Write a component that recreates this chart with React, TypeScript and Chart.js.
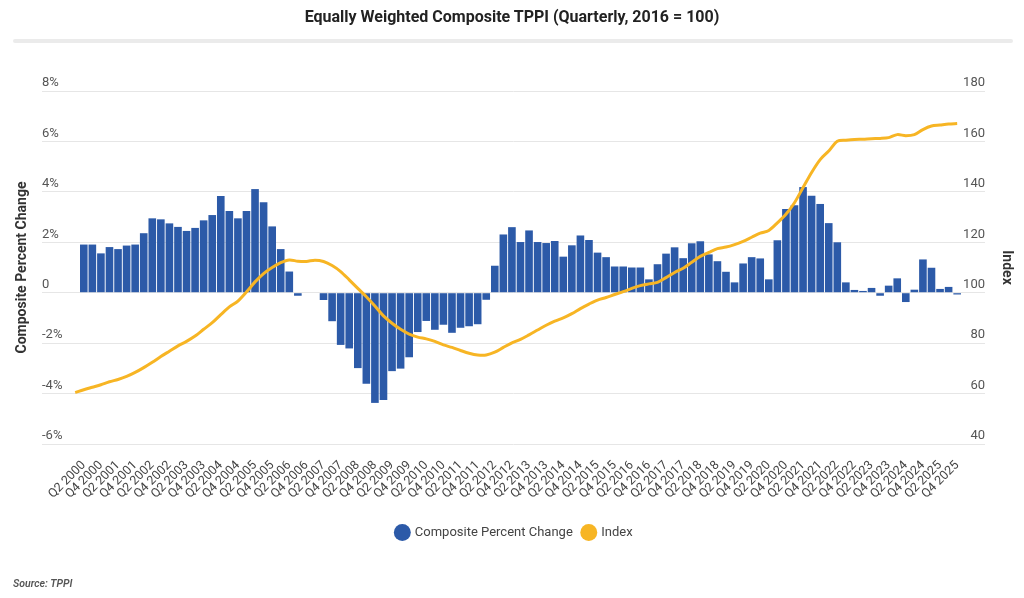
import React, { useEffect, useRef } from 'react';
import { Chart, registerables } from 'chart.js';

Chart.register(...registerables);

// Q1 2000 ~ Q4 2025
const quarters: string[] = [];
for (let y = 2000; y <= 2025; y++) {
  for (let q = 1; q <= 4; q++) quarters.push(`Q${q} ${y}`);
}

// quarter-over-quarter % change (no value for Q1 2000)
const pctChange: (number | null)[] = [
  null,
  1.91, 1.91, 1.56, 1.81, 1.73, 1.87, 1.91, 2.36, 2.95, 2.91,
  2.75, 2.61, 2.45, 2.57, 2.87, 3.08, 3.84, 3.24, 2.95, 3.24,
  4.11, 3.59, 2.63, 1.73, 0.84, -0.12, 0.0, 0.0, -0.29, -1.13,
  -2.07, -2.21, -2.99, -3.61, -4.37, -4.25, -3.11, -3.01, -2.56, -1.56,
  -1.12, -1.47, -1.27, -1.59, -1.39, -1.33, -1.25, -0.28, 1.07, 2.31,
  2.6, 2.01, 2.47, 2.01, 1.97, 2.05, 1.43, 1.88, 2.27, 2.09,
  1.59, 1.41, 1.04, 1.04, 1.0, 1.0, 0.53, 1.13, 1.55, 1.8,
  1.37, 1.96, 2.04, 1.52, 1.25, 0.83, 0.41, 1.16, 1.41, 1.36,
  0.53, 2.08, 3.32, 3.47, 4.19, 3.85, 3.52, 2.76, 2.0, 0.41,
  0.11, 0.07, 0.19, -0.12, 0.28, 0.57, -0.37, 0.12, 1.32, 0.99,
  0.15, 0.23, -0.07,
];

// index, 2016 = 100
const indexValues: number[] = [
  60.4, 61.5, 62.5, 63.5, 64.7, 65.6, 66.8, 68.4, 70.3, 72.4,
  74.7, 76.8, 78.9, 80.7, 82.8, 85.5, 88.1, 91.3, 94.4, 96.7,
  100.3, 104.3, 107.6, 110.0, 111.9, 113.0, 112.5, 112.4, 112.9, 112.4,
  110.8, 108.4, 105.1, 101.7, 98.4, 94.7, 90.8, 87.9, 85.5, 83.6,
  82.4, 81.7, 80.7, 79.3, 78.3, 77.1, 76.0, 75.3, 75.3, 76.4,
  78.3, 80.1, 81.5, 83.3, 85.2, 87.1, 88.7, 90.0, 91.7, 93.7,
  95.5, 97.1, 98.1, 99.3, 100.4, 101.7, 102.8, 103.5, 104.1, 106.0,
  108.0, 109.7, 112.1, 114.4, 116.0, 117.5, 118.1, 119.1, 120.4, 122.0,
  123.6, 124.7, 127.7, 131.1, 135.7, 141.7, 147.7, 152.8, 156.2, 160.1,
  160.5, 160.8, 160.9, 161.1, 161.2, 161.5, 162.7, 162.3, 162.7, 164.7,
  166.1, 166.5, 166.9, 167.1,
];

const leftTicks = { min: -6, max: 8, step: 2 };
const rightTicks = { min: 40, max: 180, step: 20 };

const BLUE = '#2c5aa8';
const GOLD = '#f7b524';

const App: React.FC = () => {
  const canvasRef = useRef<HTMLCanvasElement>(null);
  const chartRef = useRef<Chart | null>(null);

  useEffect(() => {
    if (!canvasRef.current) return;
    if (chartRef.current) chartRef.current.destroy();

    const ctx = canvasRef.current.getContext('2d');
    if (!ctx) return;

    Chart.defaults.font.family = 'Roboto';

    chartRef.current = new Chart(ctx, {
      type: 'bar',
      data: {
        datasets: [
          {
            type: 'bar',
            label: 'Composite Percent Change',
            data: pctChange.map((v, i) => ({ x: i, y: v })) as any,
            backgroundColor: BLUE,
            borderWidth: 0,
            barPercentage: 0.89,
            categoryPercentage: 1,
            yAxisID: 'y',
            order: 1,
          },
          {
            type: 'line',
            label: 'Index',
            data: indexValues.map((v, i) => ({ x: i, y: v })) as any,
            borderColor: GOLD,
            backgroundColor: GOLD,
            borderWidth: 3,
            pointRadius: 0,
            tension: 0.3,
            yAxisID: 'y1',
            order: 0,
          },
        ],
      },
      options: {
        responsive: true,
        maintainAspectRatio: false,
        animation: false,
        layout: { padding: { top: 91, left: 10, right: 5, bottom: 49 } },
        plugins: {
          legend: {
            position: 'bottom',
            labels: {
              usePointStyle: true,
              pointStyle: 'circle',
              boxWidth: 12,
              boxHeight: 12,
              padding: 10,
              color: '#444',
              font: { size: 13 },
              sort: (a: any, b: any) => a.datasetIndex - b.datasetIndex,
              generateLabels: (chart: any) =>
                Chart.defaults.plugins.legend.labels
                  .generateLabels(chart)
                  .map((l: any) => ({ ...l, lineWidth: 0 })),
            },
          },
          tooltip: { enabled: false },
        },
        scales: {
          x: {
            type: 'linear',
            offset: false,
            min: -3.88,
            max: 106.25,
            grid: { display: false },
            border: { display: false },
            afterBuildTicks: (s: any) => {
              s.ticks = quarters
                .map((_, i) => i)
                .filter((i) => i % 2 === 1)
                .map((v) => ({ value: v }));
            },
            afterFit: (s: any) => {
              s.height = 72;
            },
            ticks: {
              autoSkip: false,
              minRotation: 45,
              maxRotation: 45,
              padding: 6,
              color: '#444',
              font: { size: 12.5 },
              callback: (value: any) => quarters[value] ?? '',
            },
          },
          y: {
            type: 'linear',
            position: 'left',
            min: leftTicks.min,
            max: leftTicks.max,
            grid: { color: '#e6e6e6', drawTicks: false },
            border: { display: false },
            afterFit: (s: any) => {
              s.width = 32;
            },
            ticks: {
              stepSize: leftTicks.step,
              mirror: true,
              padding: 0,
              labelOffset: -8,
              color: '#555',
              font: { size: 13 },
              callback: (v: any) => (v === 0 ? '0' : `${v}%`),
            },
            title: {
              display: true,
              text: 'Composite Percent Change',
              color: '#333',
              font: { size: 14, weight: 'bold' },
            },
          },
          y1: {
            type: 'linear',
            position: 'right',
            min: rightTicks.min,
            max: rightTicks.max,
            grid: { display: false, drawTicks: false },
            border: { display: false },
            afterFit: (s: any) => {
              s.width = 34;
            },
            ticks: {
              stepSize: rightTicks.step,
              mirror: true,
              padding: 0,
              labelOffset: -8,
              color: '#555',
              font: { size: 13 },
            },
            title: {
              display: true,
              text: 'Index',
              color: '#333',
              font: { size: 14, weight: 'bold' },
            },
          },
        },
      },
    });

    return () => {
      if (chartRef.current) {
        chartRef.current.destroy();
        chartRef.current = null;
      }
    };
  }, []);

  return (
    <div style={{ position: 'relative', width: 1024, height: 598, background: '#fff', fontFamily: 'Roboto' }}>
      <style>{'body { margin: 0; }'}</style>
      <canvas ref={canvasRef}></canvas>
      <div
        style={{
          position: 'absolute',
          top: 7,
          left: 0,
          width: 1024,
          textAlign: 'center',
          fontSize: 16,
          lineHeight: '20px',
          fontWeight: 700,
          color: '#222',
        }}
      >
        Equally Weighted Composite TPPI (Quarterly, 2016 = 100)
      </div>
      <div
        style={{
          position: 'absolute',
          top: 39,
          left: 13,
          width: 1000,
          height: 4,
          borderRadius: 2,
          background: '#ebebeb',
        }}
      />
      <div
        style={{
          position: 'absolute',
          top: 577,
          left: 13,
          fontSize: 10.5,
          lineHeight: '14px',
          fontStyle: 'italic',
          fontWeight: 600,
          color: '#555',
        }}
      >
        Source: TPPI
      </div>
    </div>
  );
};

export default App;
